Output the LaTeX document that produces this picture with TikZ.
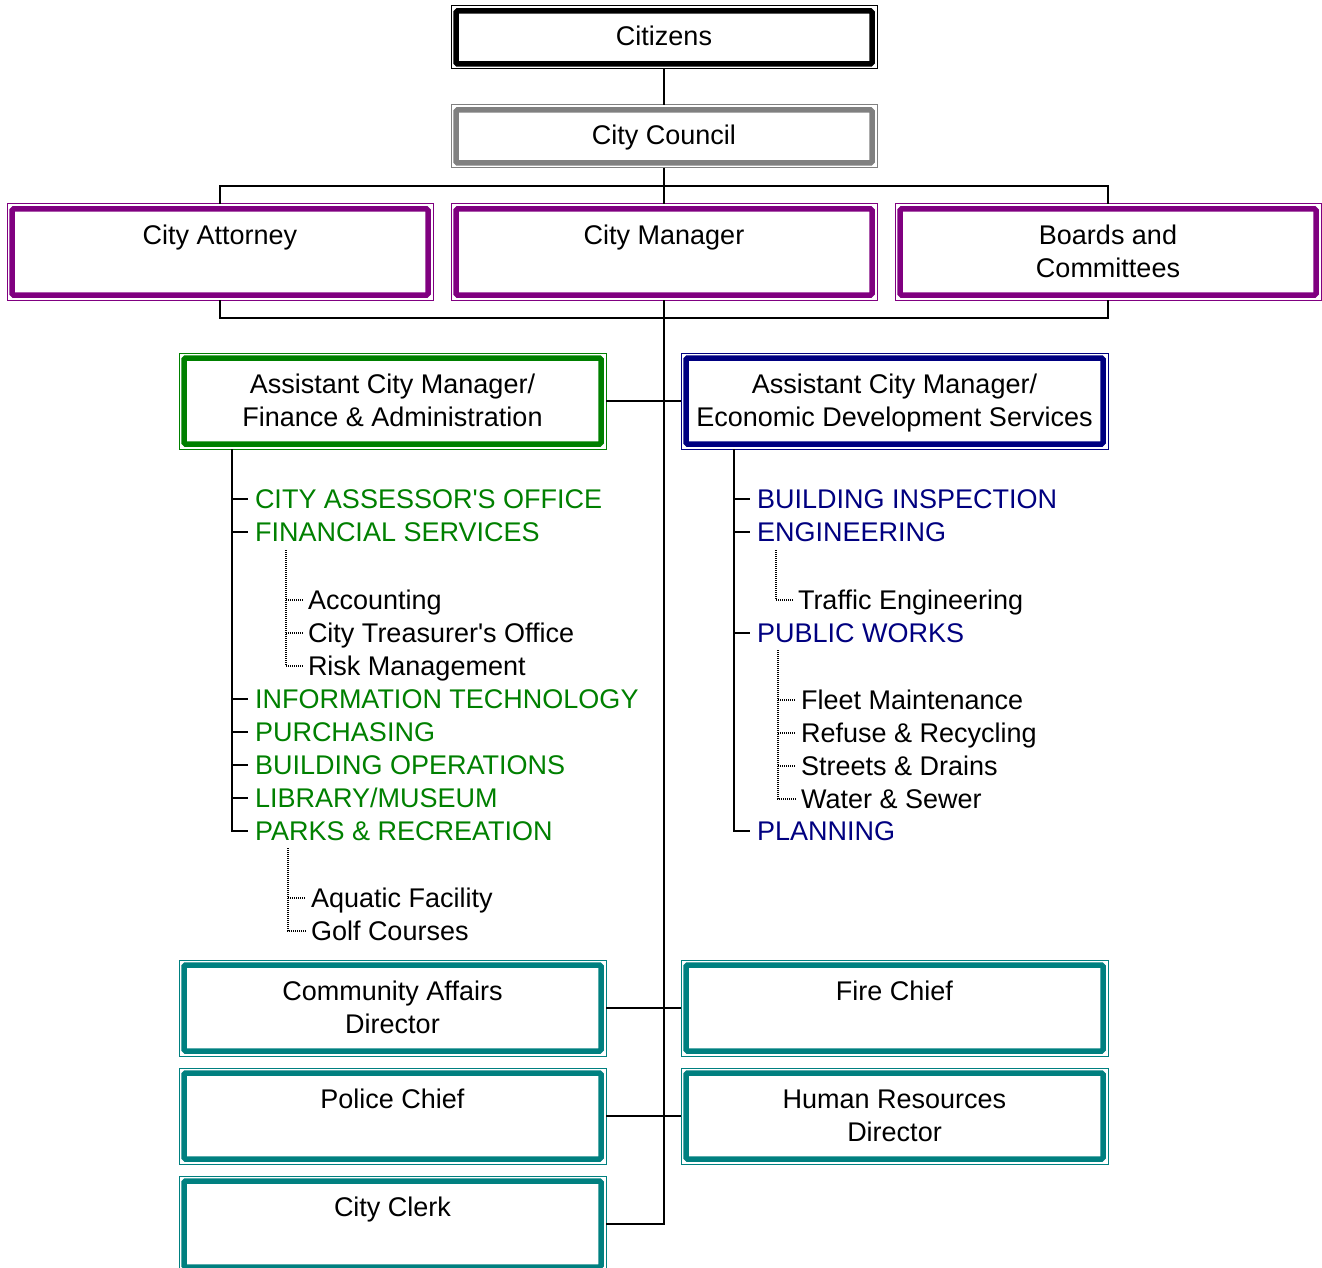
\documentclass[tikz,border=0pt]{standalone}
\usepackage{fontspec}
\setmainfont{Liberation Sans}
\definecolor{grn}{HTML}{008000}
\definecolor{nvy}{HTML}{000080}
\definecolor{prp}{HTML}{800080}
\definecolor{tea}{HTML}{008080}
\definecolor{gry}{HTML}{808080}
\newcommand{\innerframe}[2]{\draw[#2, line width=5.5pt, rounded corners=1.5pt] ([xshift=5pt,yshift=-5pt]#1.north west) rectangle ([xshift=-5pt,yshift=5pt]#1.south east);}
\newcommand{\twol}[2]{\begin{tabular}[t]{@{}c@{}}#1\\#2\end{tabular}}
\begin{document}
\begin{tikzpicture}[x=1pt,y=-1pt,
  every node/.style={font=\fontsize{27}{33}\selectfont},
  orgbox/.style={draw=#1, line width=1pt, minimum width=426pt, minimum height=96pt, inner sep=0pt, outer sep=0pt},
  btxt/.style={anchor=base, inner sep=0pt, outer sep=0pt},
  conn/.style={draw=black, line width=2pt},
  subconn/.style={draw=black, line width=1.3pt, dash pattern=on 1pt off 1pt},
  item/.style={anchor=west, inner sep=0pt, inner xsep=7pt, outer sep=0pt, text height=19.4pt, text depth=0pt},
  subitem/.style={item, inner xsep=5.5pt, text=black}]
\useasboundingbox (0,0) rectangle (1322,1268);
\fill[white] (0,0) rectangle (1322,1268);

% top boxes
\node[orgbox=black, minimum height=63pt] (citizens) at (664,37.5) {};
\innerframe{citizens}{black}
\node[btxt] (citizens-t) at (664,46) {Citizens};
\node[orgbox=gry, minimum height=63pt] (council) at (664,136.5) {};
\innerframe{council}{gry}
\node[btxt] (council-t) at (664,145) {City Council};

\node[orgbox=prp] (att) at (220,252) {};
\innerframe{att}{prp}
\node[btxt] (att-t) at (220,244) {City Attorney};
\node[orgbox=prp] (mgr) at (664,252) {};
\innerframe{mgr}{prp}
\node[btxt] (mgr-t) at (664,244) {City Manager};
\node[orgbox=prp] (boards) at (1108,252) {};
\innerframe{boards}{prp}
\node[btxt] (boards-t) at (1108,244) {\twol{Boards and}{Committees}};

% assistant managers
\node[orgbox=grn, minimum width=427pt] (acmf) at (392.5,401) {};
\innerframe{acmf}{grn}
\node[btxt] (acmf-t) at (392.5,393) {\twol{Assistant City Manager/}{Finance \& Administration}};
\node[orgbox=nvy, minimum width=427pt] (acme) at (894.5,401) {};
\innerframe{acme}{nvy}
\node[btxt] (acme-t) at (894.5,393) {\twol{Assistant City Manager/}{Economic Development Services}};

% bottom boxes
\node[orgbox=tea, minimum width=427pt] (ca) at (392.5,1008) {};
\innerframe{ca}{tea}
\node[btxt] (ca-t) at (392.5,1000) {\twol{Community Affairs}{Director}};
\node[orgbox=tea, minimum width=427pt] (fire) at (894.5,1008) {};
\innerframe{fire}{tea}
\node[btxt] (fire-t) at (894.5,1000) {Fire Chief};
\node[orgbox=tea, minimum width=427pt] (police) at (392.5,1116) {};
\innerframe{police}{tea}
\node[btxt] (police-t) at (392.5,1108) {Police Chief};
\node[orgbox=tea, minimum width=427pt] (hr) at (894.5,1116) {};
\innerframe{hr}{tea}
\node[btxt] (hr-t) at (894.5,1108) {\twol{Human Resources}{Director}};
\node[orgbox=tea, minimum width=427pt] (clerk) at (392.5,1224) {};
\innerframe{clerk}{tea}
\node[btxt] (clerk-t) at (392.5,1216) {City Clerk};

% main connectors
\draw[conn] (citizens.south) -- (council.north);
\draw[conn] (council.south) -- (mgr.north);
\draw[conn] (council.south) -- ++(0,18) -| (att.north);
\draw[conn] (council.south) -- ++(0,18) -| (boards.north);
\draw[conn] (att.south) -- ++(0,18) -| (boards.south);
\draw[conn] (mgr.south) -- (mgr.south |- clerk.east) -- (clerk.east);
\draw[conn] (acmf.east) -- (acme.west);
\draw[conn] (ca.east) -- (fire.west);
\draw[conn] (police.east) -- (hr.west);

% left list
\node[item, text=grn] (cao) at (248,499) {CITY ASSESSOR\textquotesingle S OFFICE};
\node[item, text=grn] (fin) at (248,532) {FINANCIAL SERVICES};
\node[subitem] (acc) at (302.5,600) {Accounting};
\node[subitem] (treas) at (302.5,633) {City Treasurer\textquotesingle s Office};
\node[subitem] (risk) at (302.5,666) {Risk Management};
\node[item, text=grn] (it) at (248,699) {INFORMATION TECHNOLOGY};
\node[item, text=grn] (pur) at (248,732) {PURCHASING};
\node[item, text=grn] (bops) at (248,765) {BUILDING OPERATIONS};
\node[item, text=grn] (lib) at (248,798) {LIBRARY/MUSEUM};
\node[item, text=grn] (parks) at (248,831) {PARKS \& RECREATION};
\node[subitem] (aqua) at (305.5,898) {Aquatic Facility};
\node[subitem] (golf) at (305.5,931) {Golf Courses};

\coordinate (ltrunk) at (232,449);
\draw[conn] (ltrunk) |- (parks.west);
\foreach \n in {cao,fin,it,pur,bops,lib} \draw[conn] (ltrunk |- \n.west) -- (\n.west);
\coordinate (fsub) at (286,550);
\draw[subconn] (fsub) |- (risk.west);
\foreach \n in {acc,treas} \draw[subconn] (fsub |- \n.west) -- (\n.west);
\coordinate (psub) at (288,848);
\draw[subconn] (psub) |- (golf.west);
\draw[subconn] (psub |- aqua.west) -- (aqua.west);

% right list
\node[item, text=nvy] (bi) at (750,499) {BUILDING INSPECTION};
\node[item, text=nvy] (eng) at (750,532) {ENGINEERING};
\node[subitem] (traf) at (792.5,600) {Traffic Engineering};
\node[item, text=nvy] (pw) at (750,633) {PUBLIC WORKS};
\node[subitem] (fleet) at (795.5,700) {Fleet Maintenance};
\node[subitem] (refuse) at (795.5,733) {Refuse \& Recycling};
\node[subitem] (streets) at (795.5,766) {Streets \& Drains};
\node[subitem] (water) at (795.5,799) {Water \& Sewer};
\node[item, text=nvy] (plan) at (750,831) {PLANNING};

\coordinate (rtrunk) at (734,449);
\draw[conn] (rtrunk) |- (plan.west);
\foreach \n in {bi,eng,pw} \draw[conn] (rtrunk |- \n.west) -- (\n.west);
\coordinate (esub) at (776,550);
\draw[subconn] (esub) |- (traf.west);
\coordinate (wsub) at (778,650);
\draw[subconn] (wsub) |- (water.west);
\foreach \n in {fleet,refuse,streets} \draw[subconn] (wsub |- \n.west) -- (\n.west);
\end{tikzpicture}
\end{document}
